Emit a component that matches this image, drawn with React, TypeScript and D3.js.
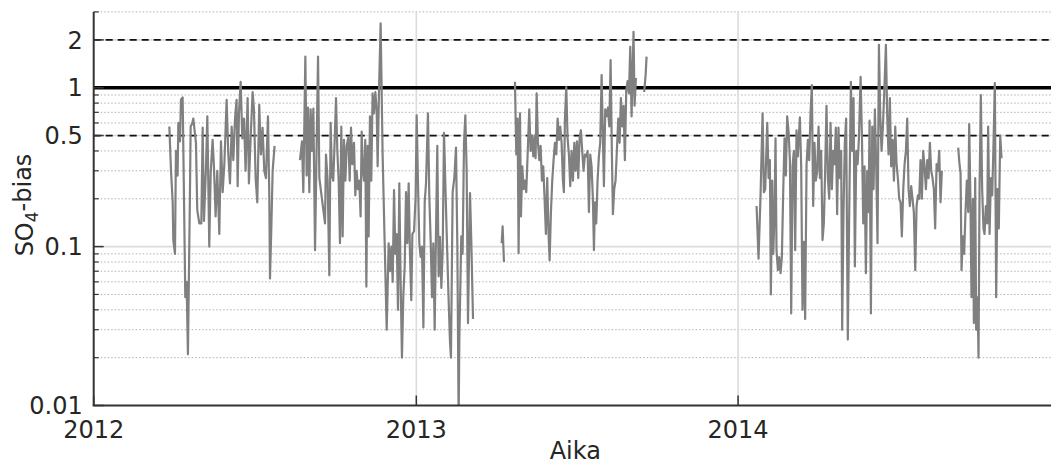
import React from 'react';
import * as d3 from 'd3';

// day offsets since 2012-01-01 and SO4-bias values
const seg1: [number, number][] = [
  [85.8,0.57],[87.7,0.30],[89.6,0.19],[90.3,0.11],[92.2,0.09],[93.3,0.40],[95.2,0.28],[96.0,0.6],[97.9,0.46],[99.0,0.84],
  [100.9,0.87],[102.4,0.21],[103.9,0.048],[105.4,0.06],[106.9,0.021],[109.2,0.22],[110.0,0.57],[111.9,0.6],[113.0,0.64],[116.0,0.45],
  [117.5,0.17],[119.8,0.14],[122.1,0.14],[123.6,0.56],[125.1,0.145],[127.4,0.32],[128.9,0.66],[131.1,0.1],[132.7,0.29],[134.9,0.47],
  [136.4,0.32],[138.3,0.155],[140.2,0.3],[142.5,0.12],[144.4,0.46],[146.3,0.22],[148.2,0.33],[150.8,0.84],[152.7,0.38],[154.6,0.25],
  [156.5,0.57],[158.4,0.35],[160.3,0.64],[162.1,0.84],[163.3,0.24],[164.8,0.69],[166.7,1.09],[168.6,0.48],[170.5,0.64],[172.3,0.30],
  [174.6,0.86],[176.1,0.25],[178.0,0.48],[180.3,0.94],[181.8,0.73],[183.7,0.27],[185.6,0.19],[187.8,0.78],[189.7,0.38],[191.6,0.56],
  [193.5,0.30],[195.4,0.27],[197.7,0.66],[199.2,0.21],[200.0,0.063],[201.5,0.13],[203.0,0.30],[205.2,0.43],
];

const seg2: [number, number][] = [
  [234.0,0.35],[236.3,0.46],[237.8,0.22],[240.1,1.57],[241.6,0.28],[243.1,0.75],[244.6,0.22],[246.1,0.73],[247.6,0.40],[249.2,0.74],
  [251.1,0.095],[253.0,0.46],[254.5,1.57],[256.0,0.27],[262.4,0.14],[263.5,0.38],[265.4,0.26],[267.3,0.066],[268.8,0.6],[270.3,0.28],
  [271.8,0.26],[273.4,0.47],[274.9,0.86],[276.4,0.40],[277.9,0.26],[279.4,0.105],[280.9,0.57],[282.4,0.116],[283.9,0.47],[285.5,0.26],
  [287.0,0.43],[288.9,0.49],[290.4,0.26],[291.9,0.56],[293.4,0.33],[295.3,0.45],[296.8,0.21],[298.3,0.30],[299.8,0.23],[301.3,0.26],
  [302.8,0.155],[304.0,0.53],[305.1,0.32],[306.6,0.26],[308.1,0.47],[309.3,0.056],[310.8,0.43],[311.9,0.116],[313.4,0.66],[314.9,0.26],
  [316.4,0.92],[318.0,0.69],[319.5,0.94],[321.0,0.73],[322.1,0.32],[323.6,0.92],[325.5,2.54],[327.8,0.37],[330.1,0.105],[332.4,0.030],
  [334.6,0.105],[336.1,0.07],[337.7,0.1],[339.2,0.060],[340.7,0.227],[342.2,0.09],[343.7,0.12],[345.2,0.04],[346.7,0.25],[348.2,0.06],
  [349.7,0.02],[351.3,0.05],[352.8,0.075],[354.3,0.22],[355.8,0.105],[357.3,0.25],[358.8,0.09],[360.3,0.046],[361.5,0.12],[363.4,0.125],
  [365.2,0.206],[366.4,0.67],[367.9,0.25],[369.4,0.105],[370.9,0.086],[372.4,0.1],[374.0,0.031],[375.5,0.19],[377.0,0.25],[379.2,0.69],
  [380.7,0.21],[382.3,0.107],[383.8,0.048],[385.3,0.105],[386.8,0.030],[388.3,0.12],[389.8,0.43],[391.3,0.065],[392.8,0.115],[394.4,0.055],
  [395.9,0.095],[397.4,0.52],[398.9,0.25],[400.4,0.125],[402.3,0.053],[404.2,0.025],[405.3,0.02],[407.2,0.22],[409.1,0.27],[411.0,0.42],
  [412.5,0.105],[414.0,0.008],[414.8,0.026],[417.0,0.116],[418.5,0.09],[420.1,0.45],[421.6,0.67],[423.1,0.30],[424.6,0.033],[426.9,0.217],
  [428.4,0.107],[430.3,0.035],
];

const seg3a: [number, number][] = [[462.8,0.105],[463.9,0.134],[465.4,0.08]];

const seg3b: [number, number][] = [
  [477.9,1.09],[479.4,0.38],[480.9,0.64],[482.0,0.091],[483.6,0.69],[484.7,0.155],[486.2,0.32],[487.7,0.23],[489.2,0.26],[490.7,0.22],
  [492.2,0.37],[494.1,0.73],[495.6,0.40],[497.2,0.50],[498.7,0.37],[500.2,0.5],[501.3,0.36],[502.5,0.92],[504.0,0.45],[505.5,0.35],
  [507.0,0.43],[508.5,0.26],[510.0,0.32],[511.5,0.20],[513.0,0.12],[514.5,0.27],[516.1,0.116],[517.2,0.082],[518.7,0.165],[520.2,0.26],
  [521.7,0.35],[523.2,0.45],[524.8,0.38],[526.3,0.64],[527.8,0.47],[529.3,0.57],[530.8,0.45],[532.3,0.26],[533.4,0.22],[534.6,0.64],
  [536.1,1.01],[537.6,0.48],[539.1,0.38],[540.6,0.24],[542.1,0.40],[543.7,0.26],[545.2,0.45],[546.7,0.30],[548.2,0.46],[549.7,0.27],
  [551.2,0.48],[552.7,0.54],[554.2,0.40],[555.7,0.30],[557.3,0.38],[558.8,0.37],[560.3,0.40],[561.8,0.165],[563.3,0.38],[564.8,0.32],
  [566.3,0.20],[567.5,0.095],[568.6,0.19],[570.1,0.14],[571.6,0.26],[573.1,0.37],[574.6,0.45],[576.2,1.2],[577.7,0.48],[578.8,0.24],
  [580.3,0.73],[581.8,0.66],[583.3,0.75],[584.9,0.57],[586.4,1.49],[587.9,0.37],[589.0,0.16],[590.5,0.23],[592.0,0.26],[593.5,0.40],
  [595.1,0.64],[596.6,0.45],[598.1,0.86],[599.6,0.57],[601.1,0.77],[602.6,0.35],[604.1,0.95],[605.6,1.1],[607.2,0.92],[608.7,1.81],
  [610.2,0.66],[611.3,1.25],[612.4,2.25],[613.6,0.77],[615.1,1.15],
];

const seg3c: [number, number][] = [[624.5,0.94],[626.1,1.2],[627.2,1.57]];

const seg4: [number, number][] = [
  [752.0,0.18],[754.2,0.084],[756.5,0.21],[758.8,0.69],[760.3,0.22],[761.8,0.23],[764.1,0.6],[765.6,0.27],[767.1,0.35],[768.2,0.05],
  [769.7,0.26],[770.9,0.09],[772.4,0.165],[773.5,0.48],[774.6,0.095],[776.2,0.071],[777.7,0.086],[779.2,0.068],[780.7,0.086],[782.2,0.22],
  [783.7,0.48],[785.2,0.28],[786.7,0.66],[788.2,0.54],[789.8,0.35],[791.3,0.038],[792.8,0.32],[794.3,0.40],[795.8,0.095],[797.3,0.54],
  [798.8,0.37],[801.1,0.65],[802.6,0.32],[804.1,0.04],[805.6,0.107],[807.1,0.035],[808.7,0.33],[810.2,0.47],[811.7,0.35],[813.2,0.69],
  [814.7,1.04],[816.2,0.18],[817.7,0.45],[819.2,0.26],[820.8,0.30],[822.3,0.57],[823.8,0.27],[825.3,0.40],[826.8,0.11],[828.3,0.14],
  [829.8,0.30],[831.3,0.77],[832.9,0.27],[834.4,0.20],[835.9,0.6],[837.4,0.23],[838.9,0.40],[840.4,0.33],[841.9,0.56],[843.4,0.16],
  [844.9,0.56],[846.5,0.27],[848.0,0.40],[849.1,0.03],[850.6,0.165],[852.1,0.45],[853.6,0.64],[855.5,0.026],[857.1,0.165],[859.0,1.09],
  [860.5,0.40],[862.0,0.86],[863.5,0.075],[865.1,0.40],[866.6,0.33],[868.1,0.48],[870.0,1.17],[871.5,0.50],[873.0,0.14],[874.5,0.32],
  [876.0,0.068],[877.5,0.30],[879.0,0.165],[880.2,0.62],[881.7,0.038],[883.2,0.57],[884.7,0.23],[886.2,0.73],[887.7,0.33],[889.2,0.105],
  [890.8,1.86],[892.3,0.66],[893.8,0.40],[895.3,0.57],[896.8,0.92],[898.7,1.86],[900.2,0.66],[901.7,0.38],[903.2,0.86],[904.7,0.32],
  [906.3,0.47],[907.8,0.26],[909.3,0.57],[910.8,0.33],[912.3,0.27],[913.8,0.20],[915.3,0.19],[916.8,0.116],[918.4,0.23],[919.9,0.33],
  [921.4,0.40],[922.9,0.64],[924.4,0.23],[925.9,0.18],[927.4,0.24],[928.9,0.20],[930.4,0.165],[932.0,0.071],[933.5,0.18],[935.0,0.21],
  [936.5,0.20],[938.0,0.35],[939.5,0.20],[941.0,0.40],[942.5,0.32],[944.1,0.23],[945.6,0.35],[947.1,0.27],[948.6,0.45],[950.1,0.30],
  [951.6,0.27],[953.1,0.23],[954.6,0.13],[956.2,0.33],[957.7,0.30],[959.2,0.40],[960.7,0.19],[962.2,0.30],
];

const seg5: [number, number][] = [
  [980.7,0.42],[982.2,0.33],[983.4,0.29],[984.5,0.071],[986.0,0.116],[987.5,0.09],[989.0,0.165],[990.5,0.26],[992.1,0.165],[993.2,0.59],
  [994.7,0.18],[995.8,0.048],[997.4,0.20],[998.5,0.033],[1000.0,0.27],[1001.1,0.03],[1002.6,0.048],[1003.8,0.02],[1004.9,0.22],[1006.4,0.9],
  [1007.9,0.23],[1009.4,0.13],[1010.6,0.12],[1012.1,0.18],[1013.6,0.14],[1014.7,0.57],[1016.3,0.12],[1017.8,0.27],[1019.3,0.21],[1020.8,0.45],
  [1022.3,1.07],[1023.8,0.048],[1025.3,0.23],[1026.8,0.13],[1028.4,0.50],[1029.9,0.36],
];

const segments = [seg1, seg2, seg3a, seg3b, seg3c, seg4, seg5];

const majorY = [0.01, 0.1, 0.5, 1, 2];
const majorYLabels = ['0.01', '0.1', '0.5', '1', '2'];
const minorY = [0.02, 0.03, 0.04, 0.05, 0.06, 0.07, 0.08, 0.09, 0.2, 0.3, 0.4, 0.6, 0.7, 0.8, 0.9, 3];
const dashedRefs = [0.5, 2];
const solidRef = 1;
const yearTicks = ['2012-01-01', '2013-01-01', '2014-01-01'];
const yearLabels = ['2012', '2013', '2014'];

const W = 1051;
const H = 466;
const L = 93.7;
const R = 1051;
const T = 11.9;
const B = 405.5;
const START = Date.UTC(2012, 0, 1);
const DAY = 864e5;
const FONT = 'DejaVu Sans, sans-serif';
const TXT = '#262626';

export default function App() {
  const x = d3.scaleUtc().domain([new Date(START), new Date(START + 1086 * DAY)]).range([L, R]);
  const y = d3.scaleLog().domain([0.01, 3]).range([B, T]);
  const line = d3
    .line<[number, number]>()
    .x((d) => x(new Date(START + d[0] * DAY)))
    .y((d) => y(d[1]));

  return (
    <svg width={W} height={H} style={{ position: 'absolute', left: 0, top: 0, background: '#fff' }} fontFamily={FONT}>
      <defs>
        <clipPath id="plot">
          <rect x={L} y={T} width={R - L} height={B - T} />
        </clipPath>
      </defs>
      {/* minor grid */}
      {minorY.map((v) => (
        <line key={'mi' + v} x1={L} x2={R} y1={y(v)} y2={y(v)} stroke="#b0b0b0" strokeWidth={1} strokeDasharray="1.5,2" />
      ))}
      {/* major grid */}
      {majorY.slice(1).map((v) => (
        <line key={'ma' + v} x1={L} x2={R} y1={y(v)} y2={y(v)} stroke="#dcdcdc" strokeWidth={1.6} />
      ))}
      {yearTicks.slice(1).map((t) => (
        <line key={'vg' + t} x1={x(new Date(t))} x2={x(new Date(t))} y1={T} y2={B} stroke="#dcdcdc" strokeWidth={1.6} />
      ))}
      {/* reference lines */}
      {dashedRefs.map((v) => (
        <line key={'dr' + v} x1={L} x2={R} y1={y(v)} y2={y(v)} stroke="#111" strokeWidth={1.8} strokeDasharray="7,5" />
      ))}
      <line x1={L} x2={R} y1={y(solidRef)} y2={y(solidRef)} stroke="#000" strokeWidth={3.5} />
      {/* data */}
      <g clipPath="url(#plot)">
        {segments.map((s, i) => (
          <path key={'s' + i} d={line(s) || ''} fill="none" stroke="#808080" strokeWidth={2.2} strokeLinejoin="round" />
        ))}
      </g>
      {/* axes */}
      <line x1={L} x2={L} y1={T} y2={B} stroke="#333" strokeWidth={2} />
      <line x1={L - 1} x2={R} y1={B} y2={B} stroke="#333" strokeWidth={2} />
      {majorY.map((v, i) => (
        <g key={'yt' + v}>
          <line x1={L} x2={L + 10} y1={y(v)} y2={y(v)} stroke="#333" strokeWidth={1.5} />
          <text x={L - 11} y={y(v)} dy="0.36em" textAnchor="end" fontSize={24} fill={TXT}>
            {majorYLabels[i]}
          </text>
        </g>
      ))}
      {minorY.map((v) => (
        <line key={'ym' + v} x1={L} x2={L + 5} y1={y(v)} y2={y(v)} stroke="#333" strokeWidth={1.2} />
      ))}
      {yearTicks.map((t, i) => (
        <g key={'xt' + t}>
          <line x1={x(new Date(t))} x2={x(new Date(t))} y1={B} y2={B - 10} stroke="#333" strokeWidth={1.5} />
          <text x={x(new Date(t))} y={438} textAnchor="middle" fontSize={24} fill={TXT}>
            {yearLabels[i]}
          </text>
        </g>
      ))}
      <text x={(L + R) / 2 + 3} y={459} textAnchor="middle" fontSize={24} fill={TXT}>
        Aika
      </text>
      <text transform="translate(33,205) rotate(-90)" textAnchor="middle" fontSize={24} fill={TXT}>
        SO
        <tspan dy="0.3em" fontSize={17}>4</tspan>
        <tspan dy="-0.3em">-bias</tspan>
      </text>
    </svg>
  );
}
